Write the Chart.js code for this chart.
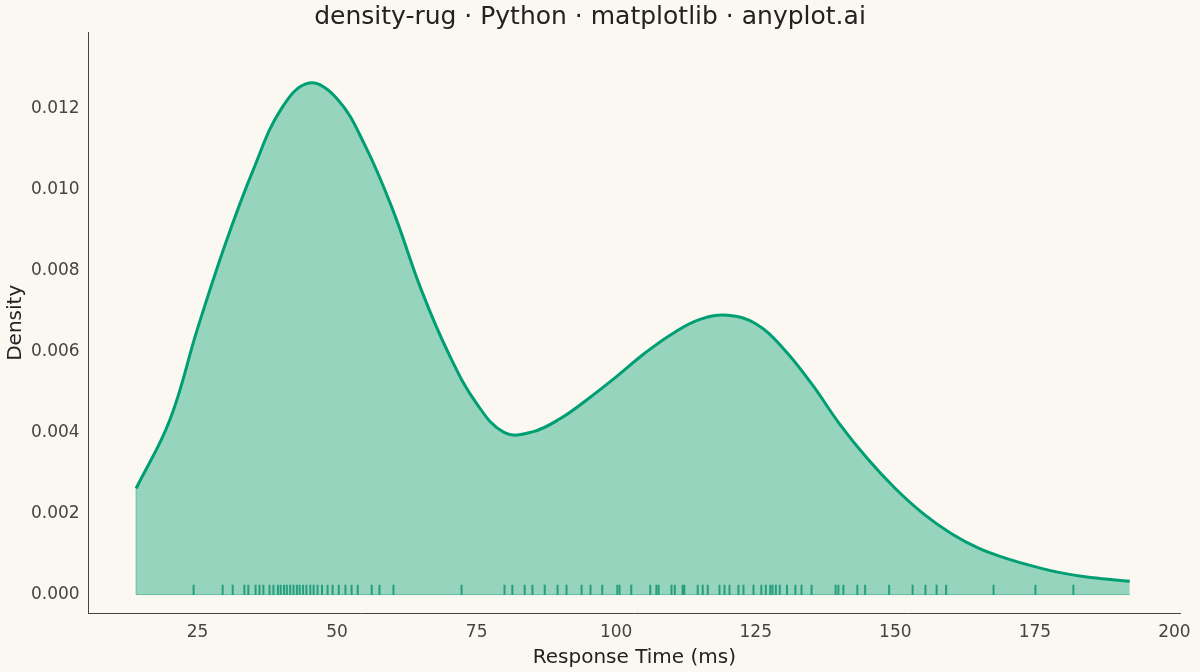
<!DOCTYPE html><html><head><meta charset="utf-8">
<script src="https://cdn.jsdelivr.net/npm/chart.js@4"></script>
<style>html,body{margin:0;background:#FAF8F1}#w{width:1200px;height:672px}</style></head><body><div id="w"><canvas id="c"></canvas></div>
<script>
const curveX=[14,20,25,30,35,40,45,50,55,60,65,70,75,80,85,90,95,100,105,110,115,120,125,130,135,140,145,150,155,160,165,170,175,180,185,192];
const curveY=[0.00262,0.00430,0.00657,0.00867,0.0105,0.0120,0.01264,0.01225,0.0111,0.0095,0.00756,0.00595,0.00472,0.00400,0.00402,0.00435,0.00484,0.00538,0.00595,0.00644,0.0068,0.0069,0.00669,0.00607,0.00521,0.00422,0.00336,0.00262,0.002,0.00151,0.00114,0.00089,0.00069,0.00053,0.00042,0.00033];
const rugX=[24.3,29.5,31.3,33.4,34.1,35.4,36.1,36.8,37.9,38.6,39.4,39.9,40.5,41.0,41.6,42.2,42.8,43.3,43.9,44.5,45.2,45.8,46.5,47.3,48.3,49.2,50.3,51.5,52.6,53.7,56.2,57.6,60.1,72.3,80,81.4,83.6,85,87.2,89.5,91.1,93.8,95.4,97.5,100.2,100.6,102.7,106.1,107.2,107.6,109.9,110.5,111.9,112.2,114.6,115.5,116.4,118.5,119.4,120.3,121.9,122.8,124.6,126.0,126.8,127.6,128.0,128.6,129.3,130.6,132.1,133.2,135.0,139.3,139.8,140.7,143.2,144.6,148.9,153.1,155.4,157.4,159.1,167.6,175.1,181.9];
const xTicks=[25,50,75,100,125,150,175,200];
const yTicks=[0,0.002,0.004,0.006,0.008,0.010,0.012];
const F='DejaVu Sans';
new Chart(document.getElementById('c'),{type:'scatter',
data:{datasets:[
{data:curveX.map((x,i)=>({x,y:curveY[i]})),showLine:true,tension:0.4,borderColor:'#009E73',borderWidth:3,pointRadius:0,fill:'origin',backgroundColor:'rgba(0,158,115,0.4)',order:2},
{data:[{x:14,y:0},{x:14,y:curveY[0]}],showLine:true,borderColor:'rgba(0,158,115,0.5)',borderWidth:1,pointRadius:0,order:3},
{data:[{x:14,y:0},{x:192,y:0}],showLine:true,borderColor:'rgba(0,158,115,0.5)',borderWidth:1,pointRadius:0,order:3},
{data:rugX.map(x=>({x,y:0.00012})),pointStyle:'line',rotation:90,pointRadius:5,borderColor:'rgba(0,140,100,0.75)',borderWidth:2,order:1}
]},
options:{responsive:true,maintainAspectRatio:false,animation:false,
layout:{padding:{top:0,right:20,left:0,bottom:0}},
plugins:{legend:{display:false},tooltip:{enabled:false},
title:{display:true,text:'density-rug · Python · matplotlib · anyplot.ai',color:'#222',font:{family:F,size:25,weight:'normal'},padding:{top:2,bottom:0}}},
scales:{
x:{type:'linear',min:5.5,max:201,afterBuildTicks:a=>{a.ticks=xTicks.map(v=>({value:v}))},
grid:{display:false,drawTicks:true,tickLength:6,tickColor:'#444'},border:{color:'#444'},
ticks:{color:'#444',font:{family:F,size:17},padding:3},
title:{display:true,text:'Response Time (ms)',color:'#222',font:{family:F,size:20},padding:{top:0,bottom:2}}},
y:{min:-0.00047,max:0.0139,afterBuildTicks:a=>{a.ticks=yTicks.map(v=>({value:v}))},
grid:{display:false,tickLength:6,tickColor:'#444'},border:{color:'#444'},
ticks:{color:'#444',font:{family:F,size:17},callback:v=>v.toFixed(3),padding:3},
title:{display:true,text:'Density',color:'#222',font:{family:F,size:20},padding:{bottom:0}}}}}});
</script></body></html>
